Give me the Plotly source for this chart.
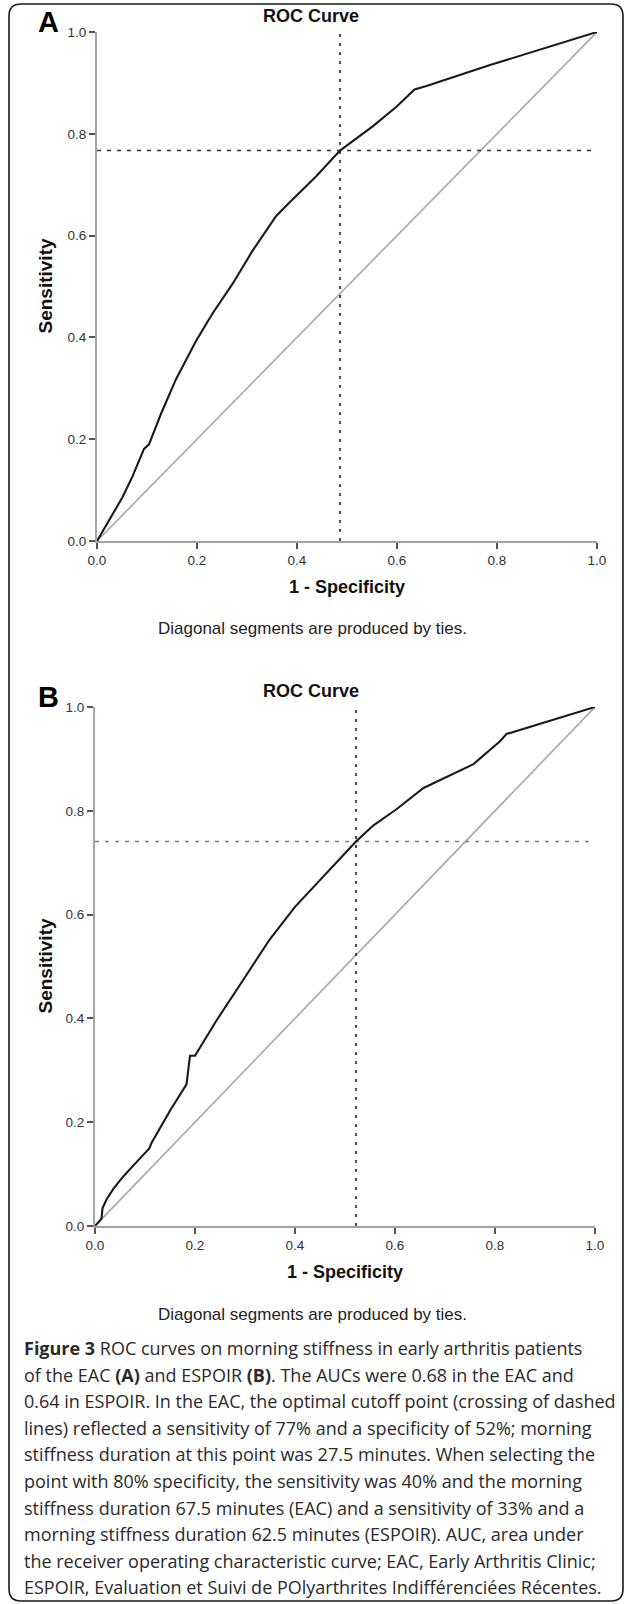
import plotly.graph_objects as go

W, H = 629, 1604

# ---------------- data ----------------
fpr_a = [0.0, 0.027, 0.051, 0.071, 0.094, 0.104, 0.128, 0.158, 0.198, 0.231, 0.271,
         0.311, 0.358, 0.385, 0.438, 0.486, 0.552, 0.599, 0.635, 0.659, 0.786, 1.0]
tpr_a = [0.0, 0.045, 0.086, 0.127, 0.181, 0.190, 0.250, 0.318, 0.393, 0.447, 0.505,
         0.570, 0.638, 0.665, 0.716, 0.767, 0.815, 0.853, 0.887, 0.894, 0.935, 1.0]

fpr_b = [0.0, 0.013, 0.015, 0.023, 0.037, 0.057, 0.083, 0.109, 0.113, 0.150, 0.183,
         0.190, 0.200, 0.243, 0.297, 0.350, 0.400, 0.457, 0.522, 0.557, 0.603, 0.657,
         0.757, 0.810, 0.819, 0.823, 1.0]
tpr_b = [0.0, 0.014, 0.034, 0.051, 0.072, 0.096, 0.123, 0.150, 0.160, 0.222, 0.273,
         0.328, 0.328, 0.396, 0.475, 0.553, 0.615, 0.673, 0.741, 0.772, 0.803, 0.844,
         0.890, 0.934, 0.943, 0.948, 1.0]

ref_line = [0.0, 1.0]
cut_a = (0.486, 0.767)   # (1 - specificity, sensitivity)
cut_b = (0.522, 0.741)

tick_vals = [0.0, 0.2, 0.4, 0.6, 0.8, 1.0]
tick_text = ["0.0", "0.2", "0.4", "0.6", "0.8", "1.0"]

panel_letters = ["A", "B"]
panel_title = "ROC Curve"
x_title = "1 - Specificity"
y_title = "Sensitivity"
note = "Diagonal segments are produced by ties."

caption_lines = [
    "<b>Figure 3</b> ROC curves on morning stiffness in early arthritis patients",
    "of the EAC <b>(A)</b> and ESPOIR <b>(B)</b>. The AUCs were 0.68 in the EAC and",
    "0.64 in ESPOIR. In the EAC, the optimal cutoff point (crossing of dashed",
    "lines) reflected a sensitivity of 77% and a specificity of 52%; morning",
    "stiffness duration at this point was 27.5 minutes. When selecting the",
    "point with 80% specificity, the sensitivity was 40% and the morning",
    "stiffness duration 67.5 minutes (EAC) and a sensitivity of 33% and a",
    "morning stiffness duration 62.5 minutes (ESPOIR). AUC, area under",
    "the receiver operating characteristic curve; EAC, Early Arthritis Clinic;",
    "ESPOIR, Evaluation et Suivi de POlyarthrites Indifférenciées Récentes.",
]

# ---------------- layout helpers (pixel -> paper) ----------------
def px(x):
    return x / W

def py(y):
    return 1 - y / H

# plot boxes in pixels: (left, right, top, bottom)
boxes = [(97, 597, 32, 541), (95, 595, 707, 1226)]

ARIAL = "Liberation Sans, Arial, sans-serif"
AXIS_COLOR = "#a3a3a3"

fig = go.Figure()

curves = [(fpr_a, tpr_a, cut_a), (fpr_b, tpr_b, cut_b)]
annotations = []
for i, ((fx, ty, cut), box) in enumerate(zip(curves, boxes)):
    xa = "x" if i == 0 else "x2"
    ya = "y" if i == 0 else "y2"
    fig.add_trace(go.Scatter(x=ref_line, y=ref_line, mode="lines",
                             line=dict(color="#a8a8a8", width=1.6),
                             xaxis=xa, yaxis=ya, showlegend=False, hoverinfo="skip"))
    hcol = "#333333" if i == 0 else "#808080"
    fig.add_trace(go.Scatter(x=ref_line, y=[cut[1], cut[1]], mode="lines",
                             line=dict(color=hcol, width=1.5, dash="4px,6px"),
                             xaxis=xa, yaxis=ya, showlegend=False, hoverinfo="skip"))
    fig.add_trace(go.Scatter(x=[cut[0], cut[0]], y=ref_line, mode="lines",
                             line=dict(color="#222222", width=1.6, dash="3px,6px"),
                             xaxis=xa, yaxis=ya, showlegend=False, hoverinfo="skip"))
    fig.add_trace(go.Scatter(x=fx, y=ty, mode="lines",
                             line=dict(color="#1a1a1a", width=2.1),
                             xaxis=xa, yaxis=ya, showlegend=False, hoverinfo="skip"))

    L, R, T, B = box
    annotations += [
        dict(text="<b>%s</b>" % panel_letters[i], x=px(48), y=py(T - 10),
             font=dict(family=ARIAL, size=29, color="#000")),
        dict(text="<b>%s</b>" % panel_title, x=px(311), y=py(T - 16),
             font=dict(family=ARIAL, size=18, color="#111")),
        dict(text="<b>%s</b>" % y_title, x=px(45), y=py((T + B) / 2), textangle=-90,
             font=dict(family=ARIAL, size=19, color="#111")),
        dict(text="<b>%s</b>" % x_title, x=px((L + R) / 2), y=py(B + 46),
             font=dict(family=ARIAL, size=18, color="#111")),
        dict(text=note, x=px(312), y=py(B + 88),
             font=dict(family=ARIAL, size=17, color="#222")),
    ]

for k, line in enumerate(caption_lines):
    annotations.append(dict(text=line, x=px(22), y=py(1348 + k * 26.6), xanchor="left",
                            font=dict(family="Open Sans, sans-serif", size=18,
                                      color="#2a2a2a")))

for a in annotations:
    a.setdefault("xanchor", "center")
    a.update(xref="paper", yref="paper", yanchor="middle", showarrow=False)

axis_common = dict(range=[0, 1], showgrid=False, zeroline=False, showline=True,
                   linecolor=AXIS_COLOR, linewidth=2, ticks="outside", ticklen=6,
                   tickwidth=1.5, tickcolor="#555555", tickvals=tick_vals,
                   ticktext=tick_text, tickfont=dict(family=ARIAL, size=13.5, color="#333"),
                   automargin=False, fixedrange=True)

(L1, R1, T1, B1), (L2, R2, T2, B2) = boxes
fig.update_layout(
    width=W, height=H, margin=dict(l=0, r=0, t=0, b=0),
    paper_bgcolor="white", plot_bgcolor="white",
    xaxis=dict(domain=[px(L1), px(R1)], anchor="y", **axis_common),
    yaxis=dict(domain=[py(B1), py(T1)], anchor="x", **axis_common),
    xaxis2=dict(domain=[px(L2), px(R2)], anchor="y2", **axis_common),
    yaxis2=dict(domain=[py(B2), py(T2)], anchor="x2", **axis_common),
    annotations=annotations,
    showlegend=False,
)

# rounded outer border
x0, x1, y0, y1, r = 9, 623, 4, 1601, 12
rx, ry = r / W, r / H
X0, X1, Y0, Y1 = px(x0), px(x1), py(y0), py(y1)
path = (f"M {X0 + rx},{Y0} L {X1 - rx},{Y0} Q {X1},{Y0} {X1},{Y0 - ry} "
        f"L {X1},{Y1 + ry} Q {X1},{Y1} {X1 - rx},{Y1} "
        f"L {X0 + rx},{Y1} Q {X0},{Y1} {X0},{Y1 + ry} "
        f"L {X0},{Y0 - ry} Q {X0},{Y0} {X0 + rx},{Y0} Z")
fig.add_shape(type="path", path=path, xref="paper", yref="paper",
              line=dict(color="#1a1a1a", width=1.6), layer="above")

fig.write_html(
    "out.html",
    config={"displayModeBar": False},
    post_script="document.body.style.margin='0';document.body.style.padding='0';"
                "document.body.style.overflow='hidden';"
                "document.documentElement.style.overflow='hidden';",
)
